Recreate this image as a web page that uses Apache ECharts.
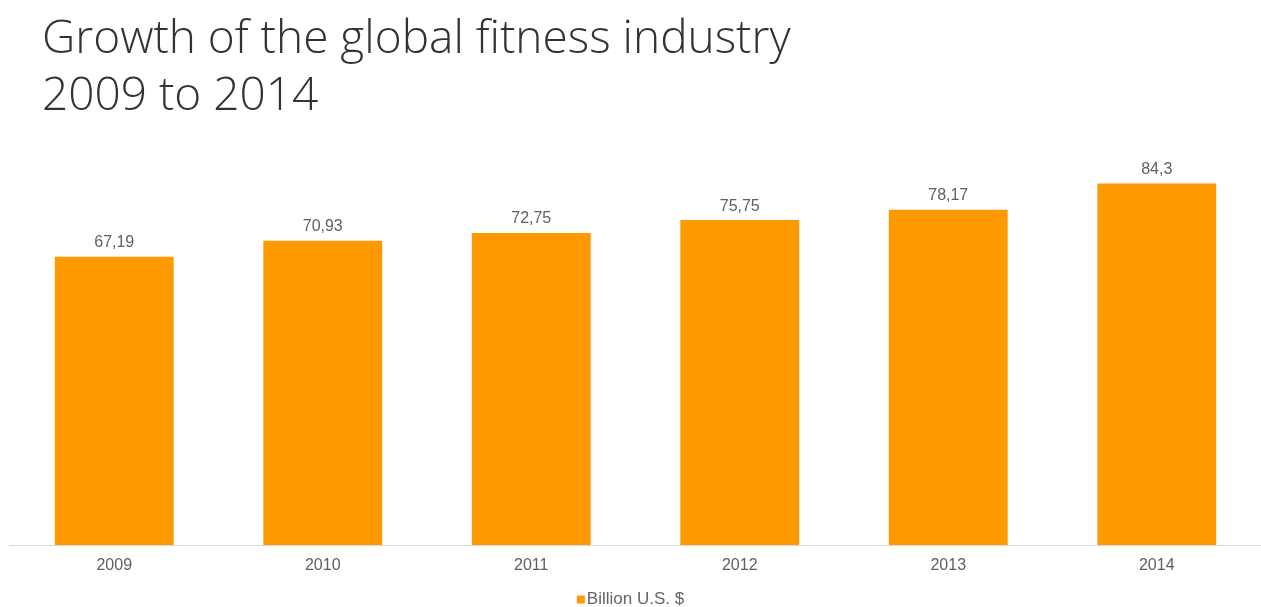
<!DOCTYPE html>
<html>
<head>
<meta charset="utf-8">
<script src="https://cdn.jsdelivr.net/npm/echarts@6/dist/echarts.min.js"></script>
<style>
html,body{margin:0;padding:0;background:#fff;}
#chart{width:1261px;height:607px;}
</style>
</head>
<body>
<div id="chart"></div>
<script>
const categories = ['2009', '2010', '2011', '2012', '2013', '2014'];
const values = [67.19, 70.93, 72.75, 75.75, 78.17, 84.3];
const seriesName = 'Billion U.S. $';
const titleLines = ['Growth of the global fitness industry', '2009 to 2014'];

const chart = echarts.init(document.getElementById('chart'));
chart.setOption({
  animation: false,
  backgroundColor: '#ffffff',
  title: {
    text: titleLines.join('\n'),
    left: 37,
    top: 6,
    textStyle: {
      fontFamily: 'Open Sans',
      fontWeight: 300,
      fontSize: 46,
      lineHeight: 57,
      color: '#333333'
    }
  },
  legend: {
    top: 586,
    left: 'center',
    itemWidth: 8,
    itemHeight: 8,
    itemGap: 4,
    icon: 'rect',
    textStyle: { fontFamily: 'Liberation Sans', fontSize: 17, color: '#666666', padding: [0, 0, 0, -3] },
    data: [seriesName]
  },
  grid: { left: 10, right: 0, top: 159, bottom: 62, containLabel: false },
  xAxis: {
    type: 'category',
    data: categories,
    axisLine: { lineStyle: { color: '#d9d9d9', width: 1 } },
    axisTick: { show: false },
    axisLabel: { fontFamily: 'Liberation Sans', fontSize: 16, color: '#606060', margin: 13 }
  },
  yAxis: {
    type: 'value',
    min: 0,
    max: 90,
    show: false,
    splitLine: { show: false }
  },
  series: [{
    name: seriesName,
    type: 'bar',
    data: values,
    barCategoryGap: '43%',
    itemStyle: { color: '#ff9900' },
    label: {
      show: true,
      position: 'top',
      distance: 6,
      fontFamily: 'Liberation Sans',
      fontSize: 16,
      color: '#606060',
      formatter: p => String(p.value).replace('.', ',')
    }
  }]
});
</script>
</body>
</html>
